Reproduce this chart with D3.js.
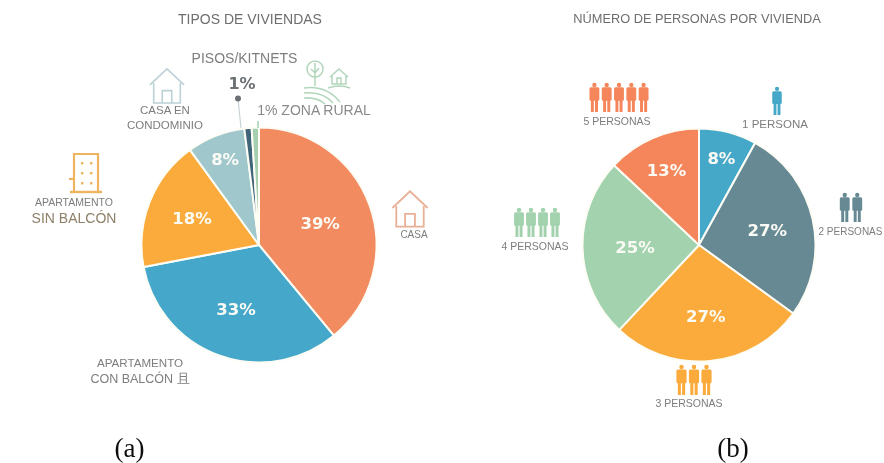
<!DOCTYPE html>
<html>
<head>
<meta charset="utf-8">
<script src="https://cdn.jsdelivr.net/npm/d3@7"></script>
<style>
  html, body { margin: 0; padding: 0; background: #fff; }
  text { font-family: "Liberation Sans", sans-serif; }
</style>
</head>
<body>
<figure style="margin:0"></figure>
<script>
// values
const tiposCategories = ['Casa', 'Apartamento con balcón', 'Apartamento sin balcón', 'Casa en condominio', 'Pisos/kitnets', 'Zona rural'];
const tiposValues = [39, 33, 18, 8, 1, 1];
const personasCategories = ['1 persona', '2 personas', '3 personas', '4 personas', '5 personas'];
const personasValues = [8, 27, 27, 25, 13];
const personasCounts = [1, 2, 3, 4, 5];

const width = 884;
const height = 463;
const colorsA = ['#F38B61', '#44A7C9', '#FBAB3B', '#9FC7CC', '#3F6579', '#A5CFB0'];
const colorsB = ['#45A8C8', '#668994', '#FBAB3B', '#A3D2AE', '#F5855A'];
const grey = '#6e6e6e';

const svg = d3.select('figure').append('svg')
  .attr('width', width)
  .attr('height', height)
  .style('display', 'block');

// the source is a soft, low-res scan
const blur = svg.append('defs').append('filter').attr('id', 'soft');
blur.append('feGaussianBlur').attr('stdDeviation', 0.6);

const g = svg.append('g').attr('filter', 'url(#soft)');

function drawPie(cx, cy, r, values, colors, labelR, labelSize) {
  const slices = d3.pie().value(d => d).sort(null)(values);
  const arc = d3.arc().innerRadius(0).outerRadius(r);
  const pg = g.append('g').attr('transform', `translate(${cx}, ${cy})`);
  pg.selectAll('path').data(slices).join('path')
    .attr('d', arc)
    .attr('fill', (d, i) => colors[i])
    .attr('stroke', '#fdfdf6')
    .attr('stroke-width', 2);
  pg.selectAll('text').data(slices.filter(d => d.data > 1)).join('text')
    .attr('transform', (d, i) => {
      const a = (d.startAngle + d.endAngle) / 2;
      return `translate(${Math.sin(a) * labelR[i]}, ${-Math.cos(a) * labelR[i]})`;
    })
    .attr('text-anchor', 'middle')
    .attr('dy', '0.36em')
    .attr('fill', '#fbfbf6')
    .attr('font-size', labelSize)
    .attr('font-weight', 700)
    .style('font-family', '"DejaVu Sans", sans-serif')
    .text(d => d.data + '%');
}

drawPie(259, 245, 117.5, tiposValues, colorsA, [65, 68, 72, 92], 16.5);
drawPie(699, 245, 116.5, personasValues, colorsB, [90, 70, 71, 64, 82], 16.5);

function label(x, y, str, size, color, weight) {
  g.append('text')
    .attr('x', x).attr('y', y)
    .attr('text-anchor', 'middle')
    .attr('font-size', size)
    .attr('font-weight', weight || 400)
    .attr('fill', color || grey)
    .text(str);
}

label(250, 24, 'TIPOS DE VIVIENDAS', 14, grey);
label(697, 23, 'NÚMERO DE PERSONAS POR VIVIENDA', 12.8, grey);

label(244.5, 63, 'PISOS/KITNETS', 14, '#7d7d7d');
g.append('text').attr('x', 242).attr('y', 89).attr('text-anchor', 'middle')
  .attr('font-size', 16).attr('font-weight', 700).attr('fill', '#6a6f73')
  .style('font-family', '"DejaVu Sans", sans-serif').text('1%');
label(314, 115, '1% ZONA RURAL', 14, '#8a8a8a');
label(165, 114, 'CASA EN', 11.5, '#7d7d7d');
label(165, 129, 'CONDOMINIO', 11.5, '#7d7d7d');
label(74, 206, 'APARTAMENTO', 10.5, '#7d7d7d');
label(74, 223, 'SIN BALCÓN', 14, '#8d7f68');
label(414, 238, 'CASA', 10, '#7d7d7d');
label(140, 367, 'APARTAMENTO', 11.6, '#7d7d7d');
label(140, 383, 'CON BALCÓN 且', 12.5, '#7d7d7d');

label(775, 128, '1 PERSONA', 11.5, '#7d7d7d');
label(617, 125, '5 PERSONAS', 10.5, '#7d7d7d');
label(850.5, 235, '2 PERSONAS', 10, '#7d7d7d');
label(535, 250, '4 PERSONAS', 10.5, '#7d7d7d');
label(689, 407, '3 PERSONAS', 10.5, '#7d7d7d');

function caption(x, str) {
  g.append('text').attr('x', x).attr('y', 457).attr('text-anchor', 'middle')
    .attr('font-size', 27).attr('fill', '#111')
    .style('font-family', '"Liberation Serif", serif').text(str);
}
caption(129.5, '(a)');
caption(733, '(b)');

// leader lines for the two 1% slices
const dot = g.append('g');
dot.append('line').attr('x1', 238).attr('y1', 99).attr('x2', 241).attr('y2', 128)
  .attr('stroke', '#c9d3d6').attr('stroke-width', 1.2);
dot.append('circle').attr('cx', 238).attr('cy', 98.5).attr('r', 3).attr('fill', '#6a6f73');
dot.append('line').attr('x1', 258).attr('y1', 121).attr('x2', 258).attr('y2', 128)
  .attr('stroke', '#a5cfb0').attr('stroke-width', 1.5);

// people icons: one figure per person in the household
function person(sel, x, y, h, color) {
  const w = h * 0.34;
  const p = sel.append('g').attr('transform', `translate(${x}, ${y})`).attr('fill', color);
  p.append('circle').attr('cx', 0).attr('cy', h * 0.07).attr('r', h * 0.075);
  p.append('rect').attr('x', -w / 2).attr('y', h * 0.15).attr('width', w).attr('height', h * 0.46).attr('rx', 1.5);
  p.append('rect').attr('x', -w * 0.36).attr('y', h * 0.58).attr('width', w * 0.3).attr('height', h * 0.42);
  p.append('rect').attr('x', w * 0.06).attr('y', h * 0.58).attr('width', w * 0.3).attr('height', h * 0.42);
}

const peopleLayout = [
  {cx: 777, top: 87, h: 28, step: 0},
  {cx: 851, top: 193, h: 29, step: 12.5},
  {cx: 694, top: 365, h: 30, step: 12.5},
  {cx: 537, top: 208, h: 29, step: 12},
  {cx: 619, top: 83, h: 29, step: 12.3}
];
personasCounts.forEach((n, i) => {
  const l = peopleLayout[i];
  d3.range(n).forEach(k => {
    person(g, l.cx + (k - (n - 1) / 2) * l.step, l.top, l.h, colorsB[i]);
  });
});

// house icon (outline)
function house(x, y, s, stroke, sw) {
  const line = d3.line();
  const h = g.append('g').attr('transform', `translate(${x}, ${y}) scale(${s})`)
    .attr('fill', 'none').attr('stroke', stroke).attr('stroke-width', sw / s);
  h.append('path').attr('d', line([[-18, 1], [0, -16], [18, 1]]));
  h.append('path').attr('d', line([[-14, -1], [-14, 20], [14, 20], [14, -1]]));
  h.append('path').attr('d', line([[-5, 20], [-5, 7], [5, 7], [5, 20]]));
}
house(167, 84, 0.95, '#bcd1d6', 1.6);
house(410, 207, 0.98, '#e8b095', 1.8);

// building icon
const b = g.append('g').attr('fill', 'none').attr('stroke', '#eeb460').attr('stroke-width', 2.2);
b.append('path').attr('d', 'M74 191V154H98V191');
b.append('path').attr('d', 'M70 192H102').attr('stroke-width', 2.4);
b.append('path').attr('d', 'M69 179H74');
g.append('g').attr('fill', '#eeb460').selectAll('rect')
  .data(d3.cross([81, 90], [162, 172, 182])).join('rect')
  .attr('x', d => d[0]).attr('y', d => d[1]).attr('width', 2.4).attr('height', 2.4);

// rural landscape icon
const rural = g.append('g').attr('fill', 'none').attr('stroke', '#b2d6bc').attr('stroke-width', 1.5);
rural.append('circle').attr('cx', 315).attr('cy', 69).attr('r', 8);
rural.append('path').attr('d', 'M315 63V86M311 69L315 73L319 68');
rural.append('path').attr('d', 'M304 88Q326 85 340 102');
rural.append('path').attr('d', 'M304 93Q323 91 333 103');
rural.append('path').attr('d', 'M304 98Q317 97 325 104');
rural.append('path').attr('d', 'M328 88Q340 84 350 88');
rural.append('path').attr('d', 'M330 77L339 69L348 77M332 76V84H346V76M337 84V78H341V84');
</script>
</body>
</html>
